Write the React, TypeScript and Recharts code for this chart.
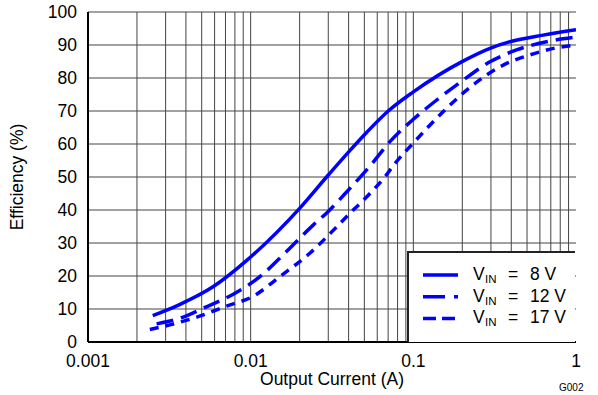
import React from 'react';
import { LineChart, Line, XAxis, YAxis, CartesianGrid, ReferenceLine } from 'recharts';

const v8 = [
  { x: 0.0025, y: 8.0 }, { x: 0.0036, y: 11.2 }, { x: 0.0059, y: 16.8 }, { x: 0.0095, y: 24.8 },
  { x: 0.02, y: 40.5 }, { x: 0.03, y: 50.6 }, { x: 0.0407, y: 58.0 }, { x: 0.0516, y: 63.5 },
  { x: 0.0701, y: 70.0 }, { x: 0.1, y: 75.8 }, { x: 0.198, y: 84.9 }, { x: 0.296, y: 89.0 },
  { x: 0.393, y: 91.0 }, { x: 0.629, y: 93.0 }, { x: 1.0, y: 94.6 },
];
const v12 = [
  { x: 0.00264, y: 5.5 }, { x: 0.00368, y: 7.2 }, { x: 0.00524, y: 10.5 }, { x: 0.00782, y: 14.5 },
  { x: 0.0114, y: 19.8 }, { x: 0.0166, y: 27.4 }, { x: 0.0243, y: 35.5 }, { x: 0.0299, y: 39.5 },
  { x: 0.0398, y: 46.0 }, { x: 0.0541, y: 53.3 }, { x: 0.0718, y: 60.7 }, { x: 0.1, y: 67.5 },
  { x: 0.139, y: 73.3 }, { x: 0.203, y: 79.4 }, { x: 0.296, y: 84.9 }, { x: 0.431, y: 88.5 },
  { x: 0.659, y: 91.0 }, { x: 1.0, y: 92.4 },
];
const v17 = [
  { x: 0.0024, y: 3.8 }, { x: 0.00319, y: 5.2 }, { x: 0.00444, y: 7.2 }, { x: 0.00712, y: 10.9 },
  { x: 0.0104, y: 13.9 }, { x: 0.0151, y: 19.8 }, { x: 0.0231, y: 26.9 }, { x: 0.0338, y: 34.9 },
  { x: 0.0408, y: 39.0 }, { x: 0.0541, y: 45.0 }, { x: 0.067, y: 50.1 }, { x: 0.0771, y: 54.1 },
  { x: 0.1, y: 60.3 }, { x: 0.16, y: 70.8 }, { x: 0.233, y: 77.9 }, { x: 0.357, y: 83.9 },
  { x: 0.521, y: 87.0 }, { x: 0.834, y: 89.5 }, { x: 1.0, y: 89.9 },
];

const xTicks = [0.001, 0.01, 0.1, 1];
const xTickLabels = ['0.001', '0.01', '0.1', '1'];
const yTicks = [0, 10, 20, 30, 40, 50, 60, 70, 80, 90, 100];
const gridX = [
  0.002, 0.003, 0.004, 0.005, 0.006, 0.007, 0.008, 0.009, 0.01,
  0.02, 0.03, 0.04, 0.05, 0.06, 0.07, 0.08, 0.09, 0.1,
  0.2, 0.3, 0.4, 0.5, 0.6, 0.7, 0.8, 0.9,
];
const seriesNames = ['8 V', '12 V', '17 V'];
const legendDash = [undefined, '22 9 4 200', '13 6'];

const FONT = '"Liberation Sans", Arial, sans-serif';
const BLUE = '#0000ff';
const FS = 17.5;

const LegendBox = () => (
  <div style={{ position: 'absolute', left: 407, top: 251, width: 168, height: 91, background: '#fff', borderLeft: '2px solid #222', borderTop: '2px solid #222', boxSizing: 'border-box' }}>
    <svg width={166} height={89} style={{ display: 'block' }}>
      {seriesNames.map((n, i) => (
        <g key={n} fontFamily={FONT} fill="#000">
          <line x1={14} x2={49} y1={22 + i * 21.7} y2={22 + i * 21.7} stroke={BLUE} strokeWidth={3.5} strokeDasharray={legendDash[i]} />
          <text x={64} y={27 + i * 21.7} fontSize={17.5}>V</text>
          <text x={76} y={30 + i * 21.7} fontSize={11.5}>IN</text>
          <text x={99} y={27 + i * 21.7} fontSize={17.5}>=</text>
          <text x={121} y={27 + i * 21.7} fontSize={17.5}>{n}</text>
        </g>
      ))}
    </svg>
  </div>
);

export default function App() {
  return (
    <div style={{ position: 'absolute', left: 0, top: 0, width: 598, height: 395, background: '#fff' }}>
      <LineChart width={598} height={395} margin={{ top: 12, right: 22, left: 0, bottom: 0 }}>
        <CartesianGrid horizontal vertical={false} stroke="#444" strokeWidth={1} />
        {gridX.map((g) => (
          <ReferenceLine key={g} x={g} stroke="#444" strokeWidth={1} />
        ))}
        <XAxis
          dataKey="x"
          type="number"
          scale="log"
          domain={[0.001, 1]}
          ticks={xTicks}
          tickFormatter={(v) => xTickLabels[xTicks.indexOf(v)] ?? String(v)}
          allowDataOverflow
          axisLine={{ stroke: '#000', strokeWidth: 2 }}
          tickLine={false}
          tickMargin={7}
          height={53}
          tick={{ fontSize: FS, fill: '#000', fontFamily: FONT }}
          label={{ value: 'Output Current (A)', position: 'insideBottom', offset: 10, fontSize: FS, fill: '#000', fontFamily: FONT }}
        />
        <XAxis
          xAxisId="top"
          orientation="top"
          dataKey="x"
          type="number"
          scale="log"
          domain={[0.001, 1]}
          allowDataOverflow
          axisLine={{ stroke: '#000', strokeWidth: 2 }}
          tick={false}
          tickLine={false}
          height={0}
        />
        <YAxis
          type="number"
          domain={[0, 100]}
          ticks={yTicks}
          axisLine={{ stroke: '#000', strokeWidth: 2 }}
          tickLine={false}
          tickMargin={5}
          width={88}
          tick={{ fontSize: FS, fill: '#000', fontFamily: FONT }}
          label={{ value: 'Efficiency (%)', angle: -90, position: 'insideLeft', offset: 17, fontSize: FS, fill: '#000', fontFamily: FONT, style: { textAnchor: 'middle' } }}
        />
        <YAxis
          yAxisId="right"
          orientation="right"
          type="number"
          domain={[0, 100]}
          axisLine={{ stroke: '#000', strokeWidth: 2 }}
          tick={false}
          tickLine={false}
          width={0}
        />
        <Line data={v8} dataKey="y" type="monotone" stroke={BLUE} strokeWidth={3.5} dot={false} isAnimationActive={false} />
        <Line data={v12} dataKey="y" type="monotone" stroke={BLUE} strokeWidth={3.5} strokeDasharray="17 8" dot={false} isAnimationActive={false} />
        <Line data={v17} dataKey="y" type="monotone" stroke={BLUE} strokeWidth={3.5} strokeDasharray="9 7" dot={false} isAnimationActive={false} />
      </LineChart>
      <LegendBox />
      <div style={{ position: 'absolute', left: 559, top: 382, fontSize: 10, fontFamily: FONT, color: '#000' }}>G002</div>
    </div>
  );
}
